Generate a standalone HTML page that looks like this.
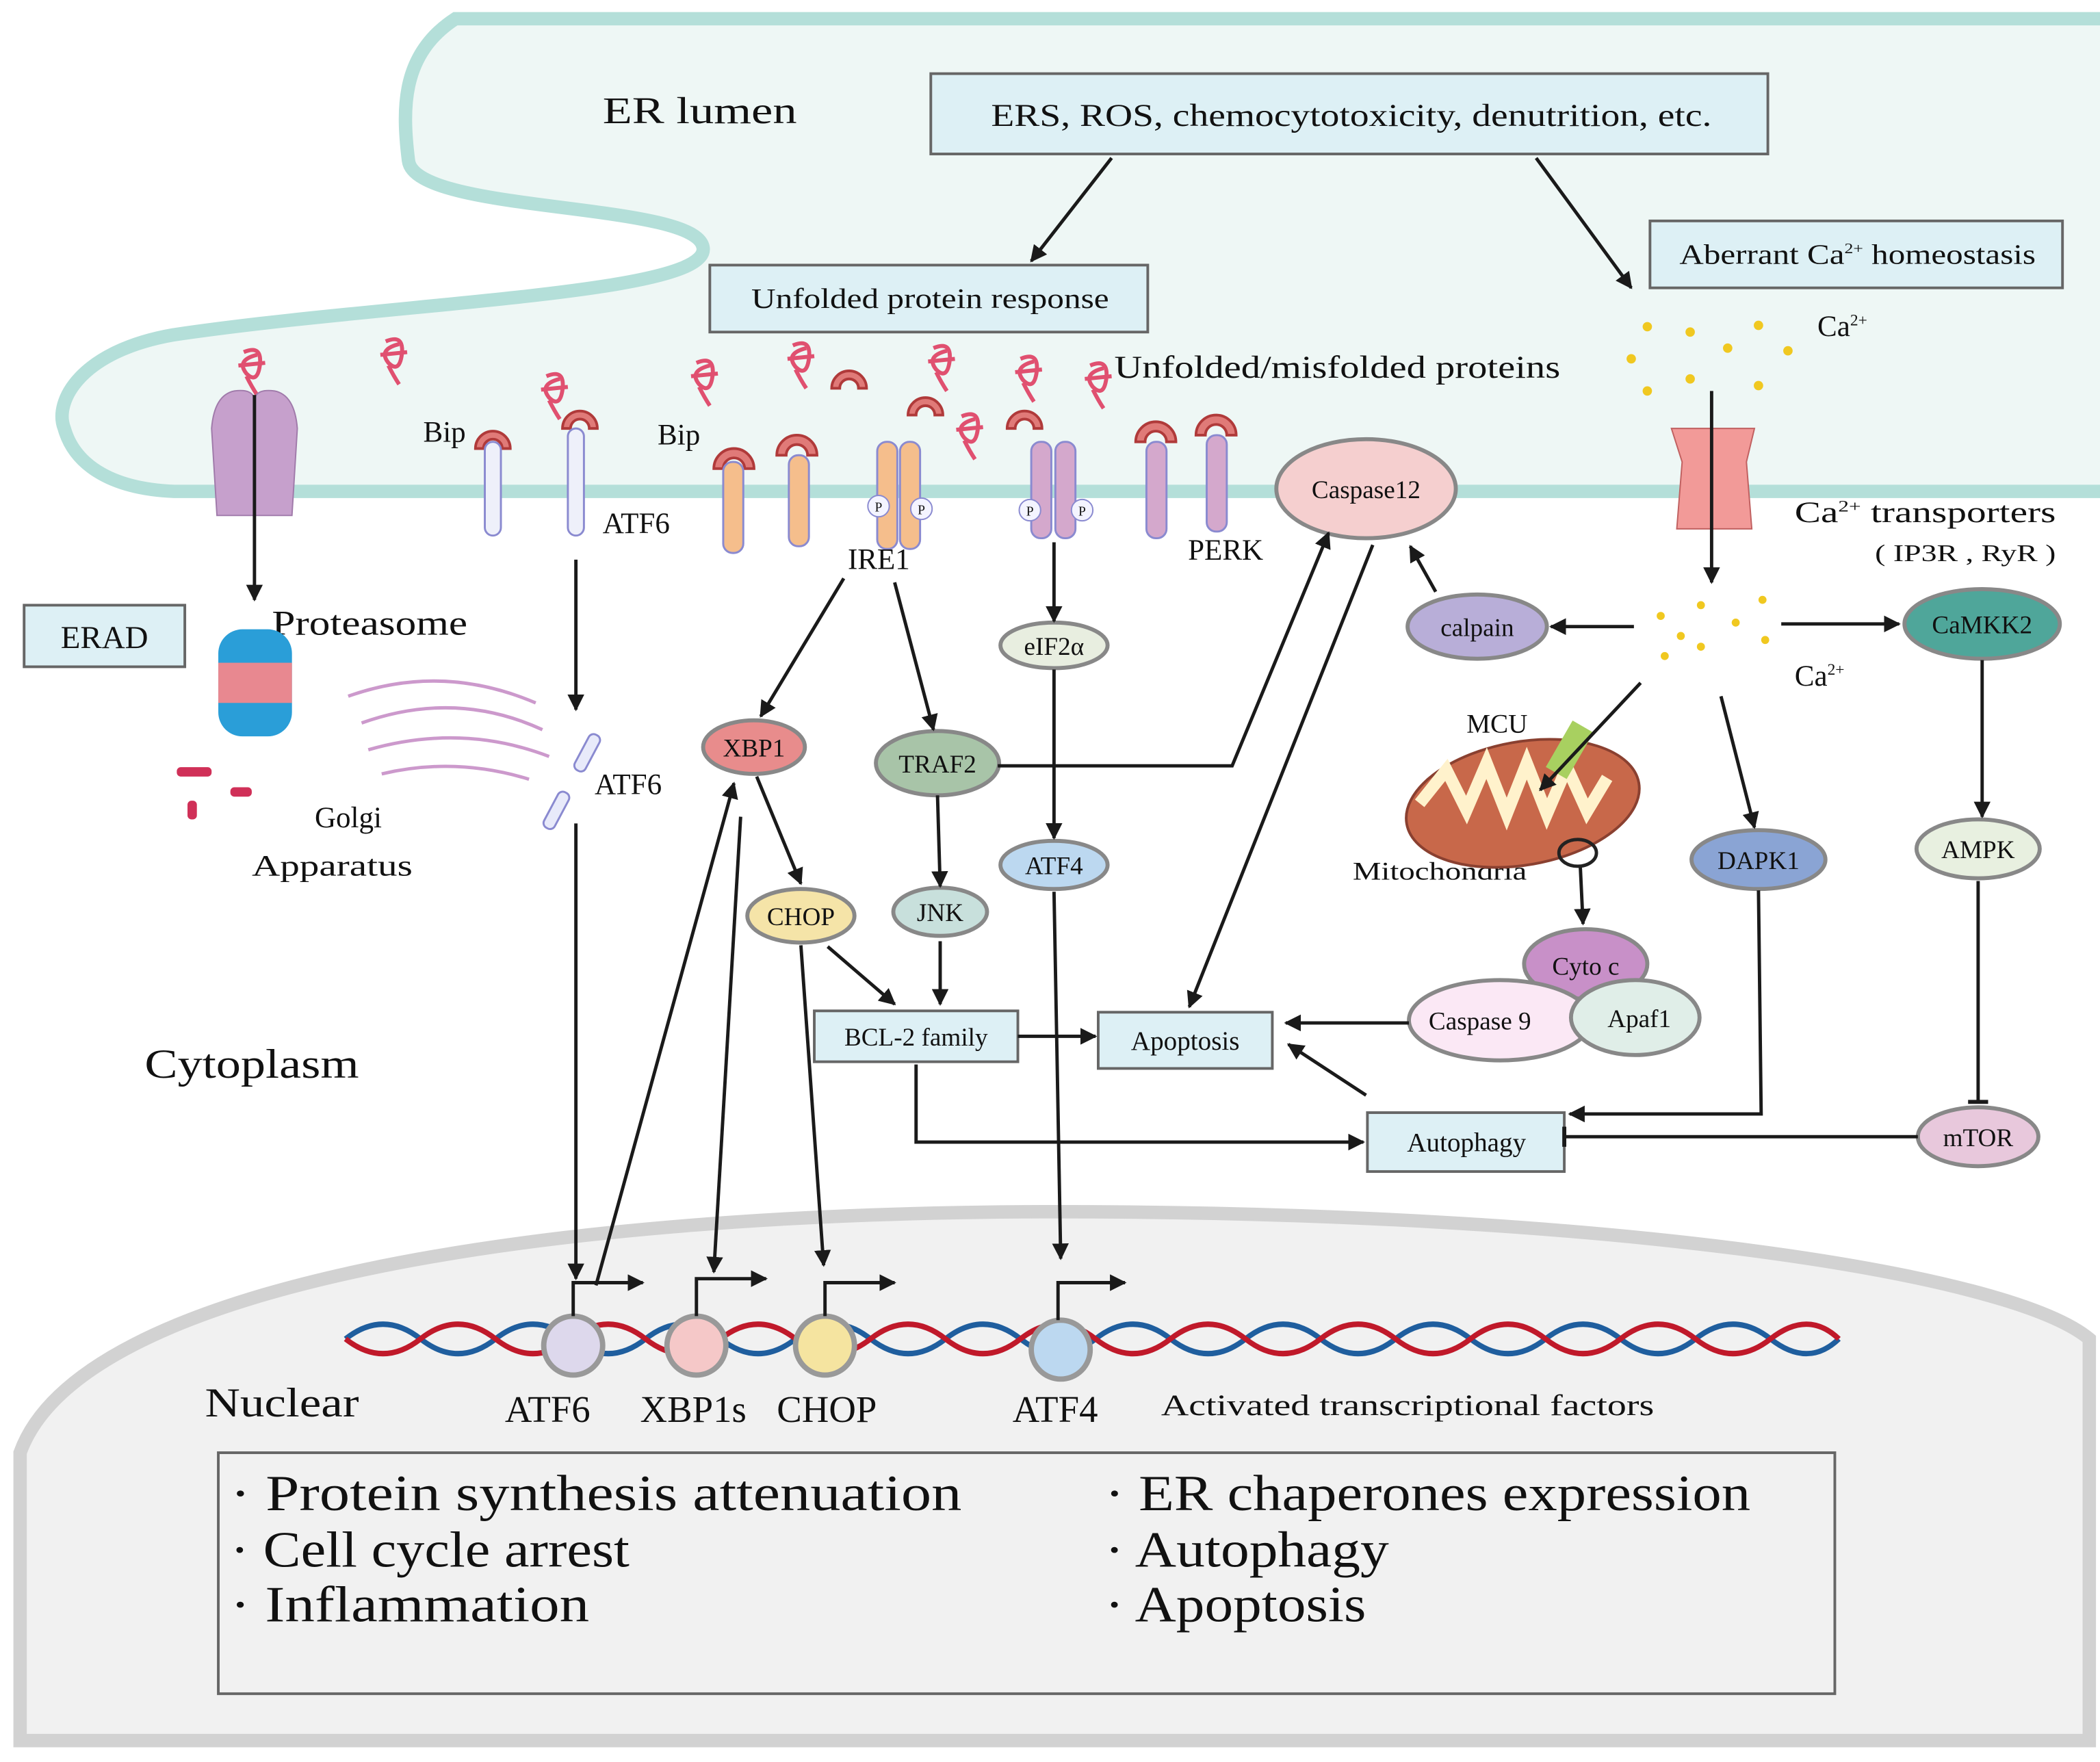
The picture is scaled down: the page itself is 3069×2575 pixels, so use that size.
<!DOCTYPE html>
<html><head><meta charset="utf-8"><style>
html,body{margin:0;padding:0;background:#fff}
svg{display:block}
text{font-family:"Liberation Serif",serif;fill:#111}
</style></head><body>
<svg width="3069" height="2575" viewBox="0 0 1568 1316" preserveAspectRatio="none" xmlns="http://www.w3.org/2000/svg">
<defs>
<marker id="a" viewBox="0 0 10 10" refX="9" refY="5" markerWidth="5" markerHeight="5" orient="auto"><path d="M0,0 L10,5 L0,10 z" fill="#1a1a1a"/></marker>
<marker id="t" viewBox="0 0 10 10" refX="5" refY="5" markerWidth="6" markerHeight="6" orient="auto"><path d="M5,0 L5,10" stroke="#1a1a1a" stroke-width="2"/></marker>
</defs>
<rect width="1568" height="1316" fill="#fff"/>
<!-- Nucleus -->
<path d="M15,1085 C60,960 400,905 790,905 C1200,905 1500,950 1560,1000 L1560,1300 L15,1300 Z" fill="#f1f1f1" stroke="#d2d2d2" stroke-width="10"/>
<!-- ER lumen -->
<path d="M1568,14 L340,14 C300,40 300,80 305,120 C310,160 520,150 525,185 C530,220 300,225 130,250 C60,262 40,300 48,320 C55,345 80,365 130,367 L1568,367" fill="#eef7f5" stroke="#b4dfd9" stroke-width="10"/>
<text x="450" y="92" font-size="28" textLength="145" lengthAdjust="spacingAndGlyphs">ER  lumen</text>
<!-- boxes -->
<g fill="#ddf0f5" stroke="#666" stroke-width="2">
<rect x="695" y="55" width="625" height="60"/>
<rect x="530" y="198" width="327" height="50"/>
<rect x="1232" y="165" width="308" height="50"/>
<rect x="18" y="452" width="120" height="46"/>
<rect x="608" y="755" width="152" height="38"/>
<rect x="820" y="756" width="130" height="42"/>
<rect x="1021" y="831" width="147" height="44"/>
</g>
<text x="740" y="94" font-size="24" textLength="538" lengthAdjust="spacingAndGlyphs">ERS, ROS, chemocytotoxicity, denutrition, etc.</text>
<text x="561" y="230" font-size="21" textLength="267" lengthAdjust="spacingAndGlyphs">Unfolded  protein  response</text>
<text x="1254" y="197" font-size="21" textLength="266" lengthAdjust="spacingAndGlyphs">Aberrant Ca<tspan font-size="11" dy="-8">2+</tspan><tspan dy="8">  homeostasis</tspan></text>
<text x="78" y="484" font-size="24" text-anchor="middle">ERAD</text>
<text x="684" y="781" font-size="19" text-anchor="middle">BCL-2 family</text>
<text x="885" y="784" font-size="20" text-anchor="middle">Apoptosis</text>
<text x="1095" y="860" font-size="20" text-anchor="middle">Autophagy</text>
<!-- outcomes box -->
<rect x="163" y="1085" width="1207" height="180" fill="#f1f1f1" stroke="#666" stroke-width="2"/>
<g font-size="38">
<text x="172" y="1128" textLength="546" lengthAdjust="spacingAndGlyphs">· Protein synthesis attenuation</text>
<text x="172" y="1170" textLength="298" lengthAdjust="spacingAndGlyphs">· Cell cycle arrest</text>
<text x="172" y="1211" textLength="268" lengthAdjust="spacingAndGlyphs">· Inflammation</text>
<text x="825" y="1128" textLength="482" lengthAdjust="spacingAndGlyphs">· ER chaperones expression</text>
<text x="825" y="1170" textLength="212" lengthAdjust="spacingAndGlyphs">· Autophagy</text>
<text x="825" y="1211" textLength="195" lengthAdjust="spacingAndGlyphs">· Apoptosis</text>
</g>
<!-- misfolded proteins -->
<g fill="none" stroke="#e05070" stroke-width="3">
<g transform="translate(190,275)"><path d="M-8,-12 q14,-6 12,10 q-2,14 -10,6 q-8,-10 8,-14 m-14,8 l20,-2 m-14,10 q4,8 8,14"/></g>
<g transform="translate(296,267)"><path d="M-8,-12 q14,-6 12,10 q-2,14 -10,6 q-8,-10 8,-14 m-14,8 l20,-2 m-14,10 q4,8 8,14"/></g>
<g transform="translate(416,293)"><path d="M-8,-12 q14,-6 12,10 q-2,14 -10,6 q-8,-10 8,-14 m-14,8 l20,-2 m-14,10 q4,8 8,14"/></g>
<g transform="translate(528,283)"><path d="M-8,-12 q14,-6 12,10 q-2,14 -10,6 q-8,-10 8,-14 m-14,8 l20,-2 m-14,10 q4,8 8,14"/></g>
<g transform="translate(600,270)"><path d="M-8,-12 q14,-6 12,10 q-2,14 -10,6 q-8,-10 8,-14 m-14,8 l20,-2 m-14,10 q4,8 8,14"/></g>
<g transform="translate(705,272)"><path d="M-8,-12 q14,-6 12,10 q-2,14 -10,6 q-8,-10 8,-14 m-14,8 l20,-2 m-14,10 q4,8 8,14"/></g>
<g transform="translate(770,280)"><path d="M-8,-12 q14,-6 12,10 q-2,14 -10,6 q-8,-10 8,-14 m-14,8 l20,-2 m-14,10 q4,8 8,14"/></g>
<g transform="translate(822,285)"><path d="M-8,-12 q14,-6 12,10 q-2,14 -10,6 q-8,-10 8,-14 m-14,8 l20,-2 m-14,10 q4,8 8,14"/></g>
<g transform="translate(726,323)"><path d="M-8,-12 q14,-6 12,10 q-2,14 -10,6 q-8,-10 8,-14 m-14,8 l20,-2 m-14,10 q4,8 8,14"/></g>
</g>
<!-- Bip crescents -->
<g fill="#e07a78" stroke="#b03a3a" stroke-width="2">
<path d="M355,335 a13,13 0 1 1 26,0 l-6,0 a7,7 0 1 0 -14,0 z"/>
<path d="M420,320 a13,13 0 1 1 26,0 l-6,0 a7,7 0 1 0 -14,0 z"/>
<path d="M533,350 a15,15 0 1 1 30,0 l-7,0 a8,8 0 1 0 -16,0 z"/>
<path d="M580,340 a15,15 0 1 1 30,0 l-7,0 a8,8 0 1 0 -16,0 z"/>
<path d="M621,290 a13,13 0 1 1 26,0 l-6,0 a7,7 0 1 0 -14,0 z"/>
<path d="M678,310 a13,13 0 1 1 26,0 l-6,0 a7,7 0 1 0 -14,0 z"/>
<path d="M752,320 a13,13 0 1 1 26,0 l-6,0 a7,7 0 1 0 -14,0 z"/>
<path d="M848,330 a15,15 0 1 1 30,0 l-7,0 a8,8 0 1 0 -16,0 z"/>
<path d="M893,325 a15,15 0 1 1 30,0 l-7,0 a8,8 0 1 0 -16,0 z"/>
</g>
<!-- receptors -->
<g stroke="#8a8ad0" stroke-width="1.5">
<rect x="362" y="330" width="12" height="70" rx="6" fill="#eef0fa"/>
<rect x="424" y="320" width="12" height="80" rx="6" fill="#eef0fa"/>
<rect x="540" y="345" width="15" height="68" rx="7" fill="#f5be8c"/>
<rect x="589" y="340" width="15" height="68" rx="7" fill="#f5be8c"/>
<rect x="655" y="330" width="15" height="80" rx="7" fill="#f5be8c"/>
<rect x="672" y="330" width="15" height="80" rx="7" fill="#f5be8c"/>
<rect x="770" y="330" width="15" height="72" rx="7" fill="#d4a8cc"/>
<rect x="788" y="330" width="15" height="72" rx="7" fill="#d4a8cc"/>
<rect x="856" y="330" width="15" height="72" rx="7" fill="#d4a8cc"/>
<rect x="901" y="325" width="15" height="72" rx="7" fill="#d4a8cc"/>
</g>
<g fill="#f4f4ff" stroke="#8a8ad0" stroke-width="1"><circle cx="656" cy="378" r="8"/><circle cx="688" cy="380" r="8"/><circle cx="769" cy="381" r="8"/><circle cx="808" cy="381" r="8"/></g>
<g font-size="10" text-anchor="middle"><text x="656" y="382">P</text><text x="688" y="384">P</text><text x="769" y="385">P</text><text x="808" y="385">P</text></g>
<path d="M158,320 Q160,295 175,292 Q190,290 190,300 Q190,290 205,292 Q220,295 222,320 L218,385 L162,385 Z" fill="#c6a0cc" stroke="#a07aaa"/>
<path d="M1248,320 L1278,320 L1278,395 L1252,395 L1256,345 Z M1278,320 L1310,320 L1304,345 L1308,395 L1278,395 Z" fill="#f29a98" stroke="#c06060"/>
<!-- Ca dots -->
<g fill="#f0c820">
<circle cx="1230" cy="244" r="3.5"/><circle cx="1262" cy="248" r="3.5"/><circle cx="1313" cy="243" r="3.5"/><circle cx="1290" cy="260" r="3.5"/><circle cx="1335" cy="262" r="3.5"/><circle cx="1218" cy="268" r="3.5"/><circle cx="1262" cy="283" r="3.5"/><circle cx="1313" cy="288" r="3.5"/><circle cx="1230" cy="292" r="3.5"/>
<circle cx="1240" cy="460" r="3"/><circle cx="1270" cy="452" r="3"/><circle cx="1316" cy="448" r="3"/><circle cx="1296" cy="465" r="3"/><circle cx="1255" cy="475" r="3"/><circle cx="1270" cy="483" r="3"/><circle cx="1243" cy="490" r="3"/><circle cx="1318" cy="478" r="3"/>
</g>
<g font-size="22">
<text x="316" y="330">Bip</text><text x="491" y="332">Bip</text>
<text x="450" y="398">ATF6</text><text x="633" y="425">IRE1</text><text x="887" y="418">PERK</text>
<text x="832" y="282" font-size="24" textLength="333" lengthAdjust="spacingAndGlyphs">Unfolded/misfolded proteins</text>
<text x="1357" y="251">Ca<tspan font-size="12" dy="-8">2+</tspan></text>
<text x="1340" y="390" textLength="195" lengthAdjust="spacingAndGlyphs">Ca<tspan font-size="12" dy="-8">2+</tspan><tspan dy="8">  transporters</tspan></text>
<text x="1400" y="419" font-size="18" textLength="135" lengthAdjust="spacingAndGlyphs">( IP3R , RyR )</text>
<text x="1340" y="512">Ca<tspan font-size="12" dy="-8">2+</tspan></text>
<text x="203" y="474" font-size="26" textLength="146" lengthAdjust="spacingAndGlyphs">Proteasome</text>
<text x="235" y="618">Golgi</text><text x="188" y="654" textLength="120" lengthAdjust="spacingAndGlyphs">Apparatus</text>
<text x="444" y="593">ATF6</text>
<text x="1095" y="547" font-size="20">MCU</text>
<text x="1010" y="657" font-size="19" textLength="130" lengthAdjust="spacingAndGlyphs">Mitochondria</text>
<text x="108" y="805" font-size="31" textLength="160" lengthAdjust="spacingAndGlyphs">Cytoplasm</text>
<text x="153" y="1058" font-size="31" textLength="115" lengthAdjust="spacingAndGlyphs">Nuclear</text>
<text x="377" y="1062" font-size="28">ATF6</text><text x="478" y="1062" font-size="28">XBP1s</text><text x="580" y="1062" font-size="28">CHOP</text><text x="756" y="1062" font-size="28">ATF4</text>
<text x="867" y="1057" font-size="22" textLength="368" lengthAdjust="spacingAndGlyphs">Activated transcriptional factors</text>
</g>
<!-- proteasome, golgi, ATF6 fragments -->
<g fill="#2a9ed8"><rect x="163" y="470" width="55" height="80" rx="18"/></g>
<rect x="163" y="495" width="55" height="30" fill="#e88890"/>
<g fill="#d03058"><rect x="132" y="573" width="26" height="7" rx="3"/><rect x="140" y="598" width="7" height="14" rx="3"/><rect x="172" y="588" width="16" height="7" rx="3"/></g>
<g fill="none" stroke="#cc99cc" stroke-width="2.5">
<path d="M260,520 Q330,495 400,525"/><path d="M270,540 Q340,515 405,545"/><path d="M275,560 Q345,540 410,565"/><path d="M285,578 Q340,565 395,582"/>
</g>
<g fill="#e8eafa" stroke="#8a8ad0" stroke-width="1.5"><rect x="434" y="547" width="9" height="30" rx="4" transform="rotate(28 438 562)"/><rect x="411" y="590" width="9" height="30" rx="4" transform="rotate(28 415 605)"/></g>
<!-- mitochondria -->
<ellipse cx="1137" cy="600" rx="88" ry="46" fill="#c8684a" stroke="#8a4030" stroke-width="2" transform="rotate(-10 1137 600)"/>
<path d="M1060,600 l20,-25 l15,30 l15,-35 l15,38 l15,-38 l15,38 l15,-35 l15,33 l15,-25" fill="none" stroke="#fff2cc" stroke-width="9"/>
<rect x="1163" y="540" width="18" height="40" fill="#a8d060" transform="rotate(30 1172 560)"/>
<ellipse cx="1178" cy="637" rx="14" ry="10" fill="none" stroke="#222" stroke-width="2.5"/>
<!-- ellipses -->
<g stroke="#888" stroke-width="3">
<ellipse cx="1020" cy="365" rx="67" ry="37" fill="#f5cfcf"/>
<ellipse cx="1103" cy="468" rx="52" ry="24" fill="#b8aed8"/>
<ellipse cx="1480" cy="466" rx="58" ry="26" fill="#4fa69a"/>
<ellipse cx="787" cy="482" rx="40" ry="17" fill="#e8eee0"/>
<ellipse cx="563" cy="558" rx="38" ry="20" fill="#e88c8c"/>
<ellipse cx="700" cy="570" rx="46" ry="24" fill="#a8c4a8"/>
<ellipse cx="787" cy="646" rx="40" ry="18" fill="#bcd8f0"/>
<ellipse cx="598" cy="684" rx="40" ry="20" fill="#f5e4a8"/>
<ellipse cx="702" cy="681" rx="35" ry="18" fill="#c8e0dc"/>
<ellipse cx="1313" cy="642" rx="50" ry="22" fill="#8aa4d4"/>
<ellipse cx="1477" cy="634" rx="46" ry="22" fill="#e8f0e0"/>
<ellipse cx="1477" cy="849" rx="45" ry="22" fill="#e8c8dc"/>
<ellipse cx="1184" cy="720" rx="46" ry="26" fill="#c890c8"/>
<ellipse cx="1120" cy="762" rx="68" ry="30" fill="#fbe8f5"/>
<ellipse cx="1221" cy="760" rx="48" ry="28" fill="#e0eee8"/>
</g>
<g font-size="19" text-anchor="middle">
<text x="1020" y="372">Caspase12</text><text x="1103" y="475">calpain</text><text x="1480" y="473">CaMKK2</text>
<text x="787" y="489">eIF2α</text><text x="563" y="565">XBP1</text><text x="700" y="577">TRAF2</text>
<text x="787" y="653">ATF4</text><text x="598" y="691">CHOP</text><text x="702" y="688">JNK</text>
<text x="1313" y="649">DAPK1</text><text x="1477" y="641">AMPK</text><text x="1477" y="856">mTOR</text>
<text x="1184" y="728">Cyto  c</text><text x="1105" y="769">Caspase 9</text><text x="1224" y="767">Apaf1</text>
</g>
<!-- DNA -->
<path d="M258,1000 q28,-22 56,0 t56,0 t56,0 t56,0 t56,0 t56,0 t56,0 t56,0 t56,0 t56,0 t56,0 t56,0 t56,0 t56,0 t56,0 t56,0 t56,0 t56,0 t56,0 t51,0" fill="none" stroke="#1f5e9e" stroke-width="4"/>
<path d="M258,1000 q28,22 56,0 t56,0 t56,0 t56,0 t56,0 t56,0 t56,0 t56,0 t56,0 t56,0 t56,0 t56,0 t56,0 t56,0 t56,0 t56,0 t56,0 t56,0 t56,0 t51,0" fill="none" stroke="#c0192a" stroke-width="4"/>
<g stroke="#999" stroke-width="4">
<circle cx="428" cy="1005" r="22" fill="#ddd8ec"/><circle cx="520" cy="1005" r="22" fill="#f5c8c8"/><circle cx="616" cy="1005" r="22" fill="#f5e4a0"/><circle cx="792" cy="1008" r="22" fill="#bcd8f0"/>
</g>
<g fill="none" stroke="#1a1a1a" stroke-width="2.5" marker-end="url(#a)">
<path d="M428,983 V958 H480"/><path d="M520,983 V955 H572"/><path d="M616,983 V958 H668"/><path d="M790,986 V958 H840"/>
</g>
<!-- arrows -->
<g fill="none" stroke="#1a1a1a" stroke-width="2.5" marker-end="url(#a)">
<path d="M830,118 L770,195"/><path d="M1147,118 L1218,215"/>
<path d="M190,295 V448"/><path d="M430,418 V530"/><path d="M430,615 V955"/>
<path d="M445,960 L548,585"/><path d="M553,610 L533,950"/><path d="M565,580 L598,660"/><path d="M598,706 L615,945"/>
<path d="M630,432 L568,535"/><path d="M668,435 L697,545"/><path d="M700,594 L702,662"/><path d="M702,703 V750"/><path d="M618,707 L668,750"/>
<path d="M787,405 V464"/><path d="M787,500 V626"/><path d="M787,666 L792,940"/>
<path d="M745,572 H920 L992,398"/><path d="M1025,407 L888,752"/><path d="M1072,442 L1053,408"/>
<path d="M1220,468 H1158"/><path d="M1330,466 H1418"/><path d="M1278,292 V435"/>
<path d="M1225,510 L1150,590"/><path d="M1285,520 L1310,618"/><path d="M1480,493 V610"/>
<path d="M1313,665 L1315,832 H1172"/><path d="M1052,764 H960"/><path d="M1020,818 L962,780"/>
<path d="M760,774 H818"/><path d="M684,795 V853 H1018"/><path d="M1180,648 L1182,690"/>
</g>
<g fill="none" stroke="#1a1a1a" stroke-width="2.5" marker-end="url(#t)">
<path d="M1477,658 V823"/><path d="M1432,849 H1168"/>
</g>
</svg>
</body></html>
